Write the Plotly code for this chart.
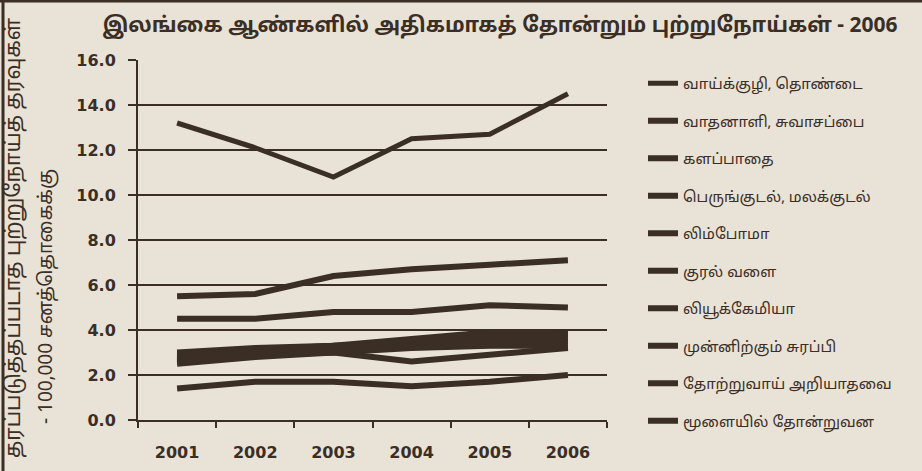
import plotly.graph_objects as go

years = ["2001", "2002", "2003", "2004", "2005", "2006"]

names = [
    "வாய்க்குழி, தொண்டை",
    "வாதனாளி, சுவாசப்பை",
    "களப்பாதை",
    "பெருங்குடல், மலக்குடல்",
    "லிம்போமா",
    "குரல் வளை",
    "லியூக்கேமியா",
    "முன்னிற்கும் சுரப்பி",
    "தோற்றுவாய் அறியாதவை",
    "மூளையில் தோன்றுவன",
]

oral = [13.2, 12.1, 10.8, 12.5, 12.7, 14.5]
lung = [5.5, 5.6, 6.4, 6.7, 6.9, 7.1]
oesophagus = [4.5, 4.5, 4.8, 4.8, 5.1, 5.0]
colorectal = [3.0, 3.2, 3.3, 3.6, 3.9, 3.9]
lymphoma = [2.9, 3.1, 3.3, 3.4, 3.7, 3.8]
larynx = [2.8, 3.0, 3.2, 3.5, 3.5, 3.6]
leukaemia = [2.7, 3.0, 3.1, 3.3, 3.4, 3.5]
prostate = [2.6, 2.9, 3.0, 2.6, 2.9, 3.2]
unknown = [2.5, 2.8, 3.0, 3.2, 3.3, 3.3]
brain = [1.4, 1.7, 1.7, 1.5, 1.7, 2.0]

series = [oral, lung, oesophagus, colorectal, lymphoma, larynx,
          leukaemia, prostate, unknown, brain]

y_ticks = [0, 2, 4, 6, 8, 10, 12, 14, 16]
y_tick_text = ["0.0", "2.0", "4.0", "6.0", "8.0", "10.0", "12.0", "14.0", "16.0"]

title_text = "இலங்கை ஆண்களில் அதிகமாகத் தோன்றும் புற்றுநோய்கள் - 2006"
ytitle_1 = "தரப்படுத்தப்படாத புற்றுநோய்த் தரவுகள்"
ytitle_2 = "- 100,000 சனத்தொகைக்கு"

INK = "#3a2e25"
PAPER = "#e9e2d7"
TAMIL = "Noto Sans Tamil, Lohit Tamil, Noto Sans, Arial, sans-serif"
NUM = "DejaVu Sans, Arial, sans-serif"

fig = go.Figure()
for i, (nm, vals) in enumerate(zip(names, series)):
    fig.add_trace(go.Scatter(
        x=years, y=vals, mode="lines", name=nm, legendgroup=f"g{i}",
        line=dict(color=INK, width=6 if i != 0 else 5),
    ))

W, H = 922, 471
L, R, T, B = 138, 315, 60, 51
pw = W - L - R
ph = H - T - B

def px_x(px):
    return (px - L) / pw

def px_y(py):
    return (H - B - py) / ph

fig.update_layout(
    width=W, height=H,
    margin=dict(l=L, r=R, t=T, b=B, pad=0, autoexpand=False),
    paper_bgcolor=PAPER, plot_bgcolor=PAPER,
    font=dict(family=TAMIL, color=INK),
    title=dict(text=title_text, x=500 / W, xanchor="center",
               y=1 - 25 / H, yanchor="middle", xref="container", yref="container",
               font=dict(size=21, color=INK, family=TAMIL, weight="bold")),
    showlegend=True,
    legend=dict(x=px_x(643), xanchor="left", y=px_y(67), yanchor="top",
                bgcolor="rgba(0,0,0,0)", tracegroupgap=15, maxheight=460,
                font=dict(size=15, color=INK, family=TAMIL)),
    xaxis=dict(type="category", showgrid=False, showline=True, linecolor=INK, linewidth=2,
               ticks="outside", tickson="boundaries", ticklen=6, tickwidth=2, tickcolor=INK,
               tickfont=dict(size=16, color=INK, family=NUM, weight="bold"),
               ticklabelstandoff=17, range=[-0.5, 5.5], zeroline=False, automargin=False),
    yaxis=dict(range=[0, 16], tickvals=y_ticks, ticktext=y_tick_text,
               showgrid=True, gridcolor=INK, gridwidth=2,
               showline=True, linecolor=INK, linewidth=2,
               ticks="outside", ticklen=8, tickwidth=2, tickcolor=INK,
               tickfont=dict(size=16, color=INK, family=NUM, weight="bold"),
               ticklabelstandoff=9, zeroline=False, automargin=False),
)

fig.add_annotation(text=ytitle_1, textangle=-90, xref="paper", yref="paper",
                   x=px_x(14), y=px_y(238), xanchor="center", yanchor="middle",
                   showarrow=False, font=dict(size=21, color=INK, family=TAMIL))
fig.add_annotation(text=ytitle_2, textangle=-90, xref="paper", yref="paper",
                   x=px_x(47), y=px_y(297), xanchor="center", yanchor="middle",
                   showarrow=False, font=dict(size=19, color=INK, family=TAMIL))

# frame of the newspaper clipping
fig.add_shape(type="line", xref="paper", yref="paper",
              x0=px_x(3), x1=px_x(3), y0=px_y(H + 5), y1=px_y(-5),
              line=dict(color=INK, width=3))
fig.add_shape(type="line", xref="paper", yref="paper",
              x0=px_x(-5), x1=px_x(W + 5), y0=px_y(1), y1=px_y(1),
              line=dict(color=INK, width=3))

fig.write_html("out.html", config={"displayModeBar": False},
               post_script="document.body.style.margin='0';")
